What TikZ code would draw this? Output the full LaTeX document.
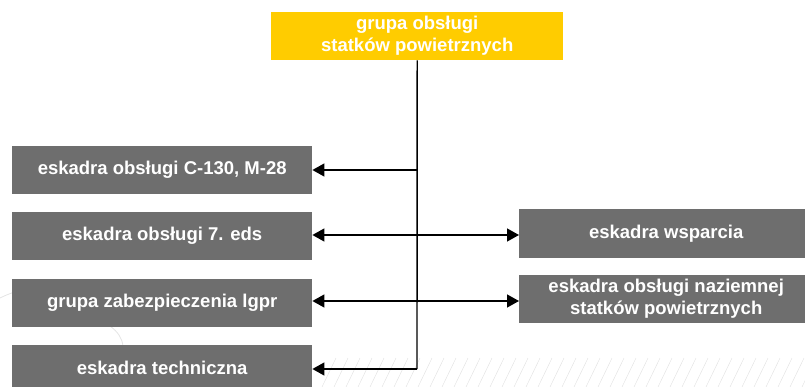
\documentclass[tikz,border=0pt]{standalone}
\usepackage{fontspec}
\setmainfont{Liberation Sans}
\usetikzlibrary{arrows.meta}
\definecolor{boxgray}{RGB}{110,110,110}
\definecolor{gold}{RGB}{255,204,0}
\definecolor{faint}{RGB}{228,228,228}
\begin{document}
\begin{tikzpicture}[x=1pt,y=-1pt,
  box/.style={fill=boxgray,text=white,font=\bfseries\fontsize{18.5}{22}\selectfont,align=center,inner sep=0pt,anchor=north west,minimum width=300pt,minimum height=48pt},
  topbox/.style={box,fill=gold,minimum width=292pt},
  conn/.style={line width=1.4pt,-{Triangle[length=12pt,width=13pt]}},
  biconn/.style={line width=1.4pt,{Triangle[length=12pt,width=13pt]}-{Triangle[length=12pt,width=13pt]}},
  bg/.style={faint,line width=0.8pt}]
\useasboundingbox (0,0) rectangle (805,387);
% faint background decorations
\foreach \i in {0,...,42} {
  \draw[bg,line width=0.5pt] (322+\i*12,387) -- (336+\i*12,358);
}
\draw[bg] (0,298) .. controls (10,293) and (20,290) .. (30,288);
\draw[bg] (110,326) .. controls (118,332) and (122,338) .. (123,346);
% nodes
\node[topbox] (top) at (271,12) {grupa obsługi\\statków powietrznych};
\node[box] (l1) at (12,146) {eskadra obsługi C-130, M-28};
\node[box] (l2) at (12,212) {eskadra obsługi 7. eds};
\node[box] (l3) at (12,279) {grupa zabezpieczenia lgpr};
\node[box,minimum height=45pt] (l4) at (12,345) {eskadra techniczna};
\node[box,minimum width=294pt,minimum height=49pt] (r1) at (519,209) {eskadra wsparcia};
\node[box,minimum width=294pt] (r2) at (519,275) {eskadra obsługi naziemnej\\statków powietrznych};
% connectors
\coordinate (j1) at (417,170);
\coordinate (j2) at (417,235);
\coordinate (j3) at (417,301);
\coordinate (j4) at (417,369);
\draw[line width=1.4pt] (top.south) -- (j4);
\draw[conn] (j1) -- (j1 -| l1.east);
\draw[biconn] (j2 -| l2.east) -- (j2 -| r1.west);
\draw[biconn] (j3 -| l3.east) -- (j3 -| r2.west);
\draw[conn] (j4) -- (j4 -| l4.east);
\end{tikzpicture}
\end{document}
